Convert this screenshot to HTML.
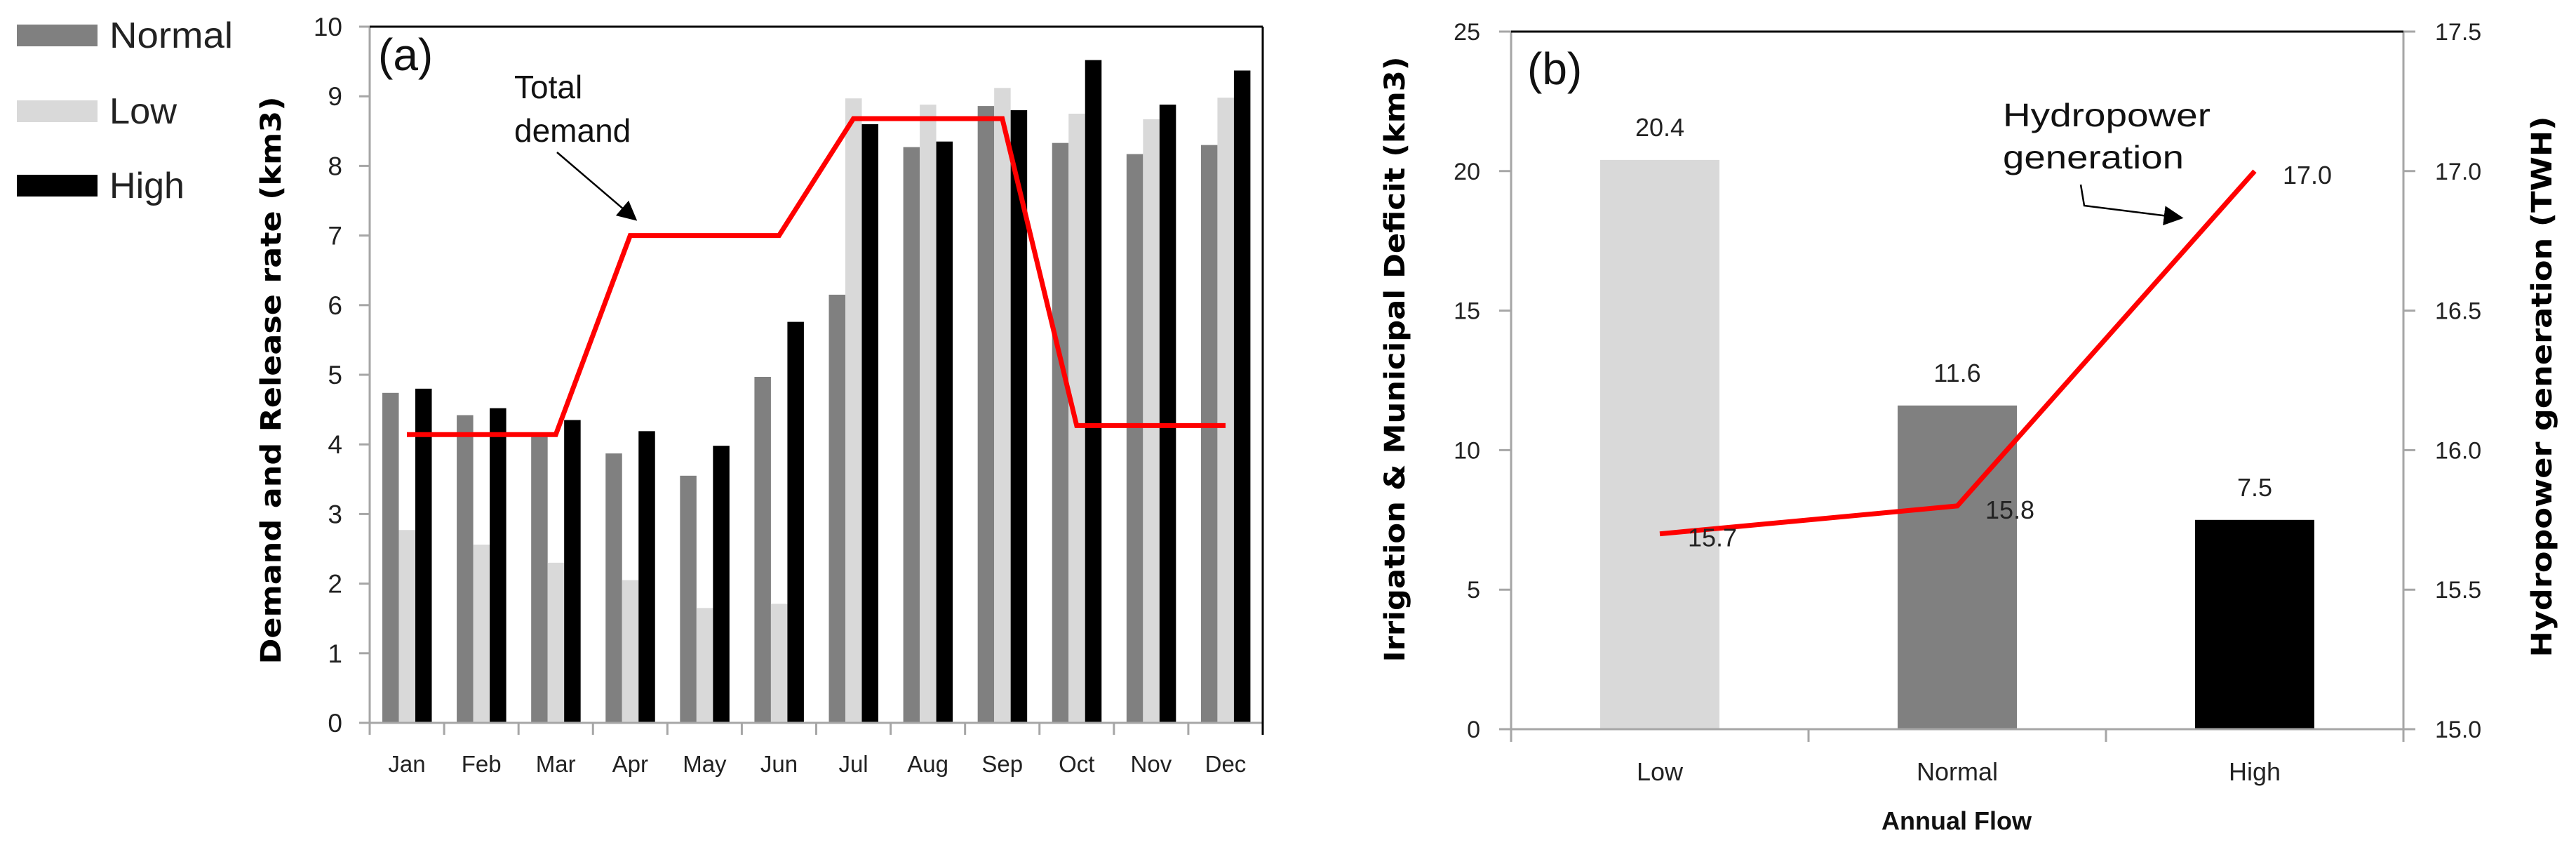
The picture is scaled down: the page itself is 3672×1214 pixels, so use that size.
<!DOCTYPE html>
<html><head><meta charset="utf-8"><style>
html,body{margin:0;padding:0;background:#fff;}
svg{display:block;font-family:"Liberation Sans",sans-serif;}
</style></head><body>
<svg id="chart" width="3672" height="1214" viewBox="0 0 3672 1214"></svg>
<script>
const months = ["Jan","Feb","Mar","Apr","May","Jun","Jul","Aug","Sep","Oct","Nov","Dec"];
const normalVals = [4.74,4.42,4.12,3.87,3.55,4.97,6.15,8.27,8.86,8.33,8.17,8.30];
const lowVals = [2.77,2.56,2.30,2.05,1.65,1.71,8.97,8.88,9.12,8.75,8.67,8.98];
const highVals = [4.80,4.52,4.35,4.19,3.98,5.76,8.60,8.35,8.80,9.52,8.88,9.37];
const demandVals = [4.14,4.14,4.14,7.0,7.0,7.0,8.68,8.68,8.68,4.27,4.27,4.27];
const aTicks = [0,1,2,3,4,5,6,7,8,9,10];

const flowCats = ["Low","Normal","High"];
const deficitVals = [20.4,11.6,7.5];
const deficitLabels = ["20.4","11.6","7.5"];
const hydroVals = [15.7,15.8,17.0];
const hydroLabels = ["15.7","15.8","17.0"];
const bLeftTicks = [0,5,10,15,20,25];
const bRightTicks = ["15.0","15.5","16.0","16.5","17.0","17.5"];

const NS="http://www.w3.org/2000/svg";
const svg=document.getElementById('chart');
function mk(tag,attrs,parent){const e=document.createElementNS(NS,tag);for(const k in attrs)e.setAttribute(k,attrs[k]);(parent||svg).appendChild(e);return e;}
function txt(s,attrs,parent){const e=mk('text',attrs,parent);e.textContent=s;return e;}

const defs=mk('defs',{});
const mrk=mk('marker',{id:'ah',refX:'8',refY:'5',orient:'auto',markerUnits:'userSpaceOnUse'},defs);
mrk.setAttribute('viewBox','0 0 10 10');mrk.setAttribute('markerWidth','28');mrk.setAttribute('markerHeight','28');
mk('path',{d:'M0,0 L10,5 L0,10 z',fill:'#000'},mrk);

// ===== Panel A =====
const aL=527,aR=1800,aT=38,aB=1030;
const ay=v=>aB-(v/10)*(aB-aT);
const cw=(aR-aL)/months.length;
const ax=i=>aL+cw*(i+0.5);
const gA=mk('g',{});


const legend=[["Normal","#808080",35,176],["Low","#d9d9d9",143,96],["High","#000000",249,107]];
legend.forEach(l=>{
  const r=mk('rect',{x:24,y:l[2],width:115,height:31,fill:l[1]},gA);
  
  
  const t=txt(l[0],{x:156,y:l[2]+33,'font-size':52,fill:'#222',textLength:l[3],lengthAdjust:'spacingAndGlyphs'},gA);
  
  
});

aTicks.forEach(v=>{
  mk('line',{x1:512,x2:aL,y1:ay(v),y2:ay(v),stroke:'#a6a6a6','stroke-width':3},gA);
  const t=txt(String(v),{x:488,y:ay(v)+13,'font-size':37,'text-anchor':'end',fill:'#222'},gA);
  
  
});
const bw=23.5;
months.forEach((m,i)=>{
  const x0=aL+cw*i+18;
  [[normalVals,'#808080','normal'],[lowVals,'#d9d9d9','low'],[highVals,'#000','high']].forEach((s,k)=>{
    const r=mk('rect',{x:x0+k*bw,y:ay(s[0][i]),width:bw,height:aB-ay(s[0][i]),fill:s[1]},gA);
    
    
  });
  mk('line',{x1:aL+cw*(i+1),x2:aL+cw*(i+1),y1:aB,y2:aB+17,stroke:'#a6a6a6','stroke-width':3},gA);
  const t=txt(m,{x:ax(i),y:1100,'font-size':33,'text-anchor':'middle',fill:'#222'},gA);
  
  
});
mk('line',{x1:aL,x2:aL,y1:aT,y2:aB+17,stroke:'#a6a6a6','stroke-width':3},gA);
mk('line',{x1:512,x2:aR,y1:aB,y2:aB,stroke:'#a6a6a6','stroke-width':3},gA);
mk('line',{x1:aL,x2:aR,y1:aT,y2:aT,stroke:'#000','stroke-width':3},gA);
mk('line',{x1:aR,x2:aR,y1:aT,y2:aB+17,stroke:'#000','stroke-width':3},gA);
const dl=mk('polyline',{points:demandVals.map((v,i)=>ax(i)+','+ay(v)).join(' '),fill:'none',stroke:'#ff0000','stroke-width':7},gA);


let t;
t=txt('(a)',{x:539,y:100,'font-size':64,fill:'#111'},gA);

t=txt('Total',{x:733,y:140,'font-size':46,fill:'#111'},gA);

txt('demand',{x:733,y:202,'font-size':46,fill:'#111'},gA);
mk('line',{x1:794,y1:217,x2:904,y2:311,stroke:'#000','stroke-width':2.5,'marker-end':'url(#ah)'},gA);
t=txt('Demand and Release rate (km3)',{x:0,y:0,'font-size':40,'font-weight':'bold','font-family':'DejaVu Sans, sans-serif','text-anchor':'middle',transform:'translate(400,542) rotate(-90)',textLength:809,lengthAdjust:'spacingAndGlyphs',fill:'#000'},gA);


// ===== Panel B =====
const bL=2154,bR=3426,bT=45,bB=1039;
const byL=v=>bB-(v/25)*(bB-bT);
const byR=v=>bB-((v-15)/2.5)*(bB-bT);
const bcw=(bR-bL)/flowCats.length;
const bx=i=>bL+bcw*(i+0.5);
const gB=mk('g',{});

bLeftTicks.forEach(v=>{
  mk('line',{x1:2137,x2:bL,y1:byL(v),y2:byL(v),stroke:'#a6a6a6','stroke-width':3},gB);
  const tt=txt(String(v),{x:2110,y:byL(v)+12,'font-size':34,'text-anchor':'end',fill:'#222'},gB);
  
  
});
bRightTicks.forEach(s=>{
  const v=parseFloat(s);
  mk('line',{x1:bR,x2:3443,y1:byR(v),y2:byR(v),stroke:'#a6a6a6','stroke-width':3},gB);
  const tt=txt(s,{x:3471,y:byR(v)+12,'font-size':34,fill:'#222'},gB);
  
  
});
const bcols=['#d9d9d9','#808080','#000'];
flowCats.forEach((c,i)=>{
  const r=mk('rect',{x:bx(i)-85,y:byL(deficitVals[i]),width:170,height:bB-byL(deficitVals[i]),fill:bcols[i]},gB);
  
  
  const l=txt(deficitLabels[i],{x:bx(i),y:byL(deficitVals[i])-34,'font-size':36,'text-anchor':'middle',fill:'#222'},gB);
  
  
  const cl=txt(c,{x:bx(i),y:1112,'font-size':36,'text-anchor':'middle',fill:'#222'},gB);
  
  
  mk('line',{x1:bL+bcw*i,x2:bL+bcw*i,y1:bB,y2:bB+18,stroke:'#a6a6a6','stroke-width':3},gB);
});
mk('line',{x1:bR,x2:bR,y1:bB,y2:bB+18,stroke:'#a6a6a6','stroke-width':3},gB);
mk('line',{x1:bL,x2:bL,y1:bT,y2:bB,stroke:'#a6a6a6','stroke-width':3},gB);
mk('line',{x1:bR,x2:bR,y1:bT,y2:bB,stroke:'#a6a6a6','stroke-width':3},gB);
mk('line',{x1:2137,x2:3443,y1:bB,y2:bB,stroke:'#a6a6a6','stroke-width':3},gB);
mk('line',{x1:bL,x2:bR,y1:bT,y2:bT,stroke:'#000','stroke-width':3},gB);
const hl=mk('polyline',{points:hydroVals.map((v,i)=>bx(i)+','+byR(v)).join(' '),fill:'none',stroke:'#ff0000','stroke-width':7},gB);


hydroVals.forEach((v,i)=>{
  const l=txt(hydroLabels[i],{x:bx(i)+40,y:byR(v)+18,'font-size':36,fill:'#222'},gB);
  
  
});
t=txt('(b)',{x:2177,y:120,'font-size':64,fill:'#111'},gB);

t=txt('Hydropower',{x:2855,y:180,'font-size':46,fill:'#111',textLength:296,lengthAdjust:'spacingAndGlyphs'},gB);

txt('generation',{x:2855,y:240,'font-size':46,fill:'#111',textLength:258,lengthAdjust:'spacingAndGlyphs'},gB);
mk('polyline',{points:'2966,263 2971,293 3107,310',fill:'none',stroke:'#000','stroke-width':2.5,'marker-end':'url(#ah)'},gB);
t=txt('Irrigation & Municipal Deficit (km3)',{x:0,y:0,'font-size':40,'font-weight':'bold','font-family':'DejaVu Sans, sans-serif','text-anchor':'middle',transform:'translate(2002,512) rotate(-90)',textLength:863,lengthAdjust:'spacingAndGlyphs',fill:'#000'},gB);

t=txt('Hydropower generation (TWH)',{x:0,y:0,'font-size':40,'font-weight':'bold','font-family':'DejaVu Sans, sans-serif','text-anchor':'middle',transform:'translate(3637,551) rotate(-90)',textLength:771,lengthAdjust:'spacingAndGlyphs',fill:'#000'},gB);

t=txt('Annual Flow',{x:2789,y:1182,'font-size':36,'font-weight':'bold','text-anchor':'middle',fill:'#111'},gB);

</script>
</body></html>
